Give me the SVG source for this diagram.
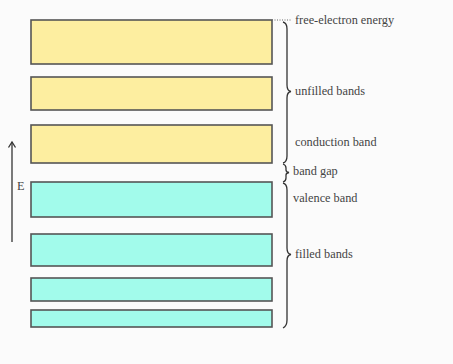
<svg xmlns="http://www.w3.org/2000/svg" width="453" height="364" viewBox="0 0 453 364">
  <style>
    .band { stroke: #555; stroke-width: 1.6; }
    .empty { fill: #fdeea0; }
    .full { fill: #a2fbeb; }
    .brace { fill: none; stroke: #333; stroke-width: 1.3; }
    .axis { fill: none; stroke: #333; stroke-width: 1.3; }
    .lbl { font-family: "Liberation Serif", "DejaVu Serif", serif; font-size: 12.3px; fill: #444; }
  </style>
  <rect width="453" height="364" fill="#fbfbfb"/>

  <!-- energy bands -->
  <g id="band-free"><rect class="band empty" x="31" y="20" width="241" height="44"/></g>
  <g id="band-unfilled"><rect class="band empty" x="31" y="77" width="241" height="33"/></g>
  <g id="band-conduction"><rect class="band empty" x="31" y="125" width="241" height="38"/></g>
  <g id="band-valence"><rect class="band full" x="31" y="182" width="241" height="35"/></g>
  <g id="band-filled-1"><rect class="band full" x="31" y="234" width="241" height="32"/></g>
  <g id="band-filled-2"><rect class="band full" x="31" y="278" width="241" height="23"/></g>
  <g id="band-filled-3"><rect class="band full" x="31" y="310" width="241" height="17"/></g>

  <!-- braces, dotted leader and energy axis -->
  <g id="connectors">
    <path d="M272,20 L292,20" stroke="#666" stroke-width="1" stroke-dasharray="1,1.5" fill="none"/>
    <path class="brace" d="M283,22 Q287,23 287,29 L287,85 Q287,91 291,91.5 Q287,92 287,98 L287,156 Q287,162 283,163"/>
    <path class="brace" d="M283,164 Q286,165 286,168 L286,170 Q286,172 289,172.5 Q286,173 286,175 L286,178 Q286,181 283,182"/>
    <path class="brace" d="M283,183 Q287,184 287,190 L287,248 Q287,254 291,254.5 Q287,255 287,261 L287,320 Q287,326 283,328"/>
    <path class="axis" d="M12,242 L12,142"/>
    <path class="axis" d="M8.5,147.5 L12,142 L15.5,147.5"/>
  </g>

  <!-- labels -->
  <g id="labels">
    <text class="lbl" x="295" y="23.5">free-electron energy</text>
    <text class="lbl" x="295" y="94.5">unfilled bands</text>
    <text class="lbl" x="295" y="145.5">conduction band</text>
    <text class="lbl" x="293" y="175">band gap</text>
    <text class="lbl" x="293" y="201.5">valence band</text>
    <text class="lbl" x="295" y="257.5">filled bands</text>
    <text class="lbl" x="17" y="190" font-size="9">E</text>
  </g>
</svg>
